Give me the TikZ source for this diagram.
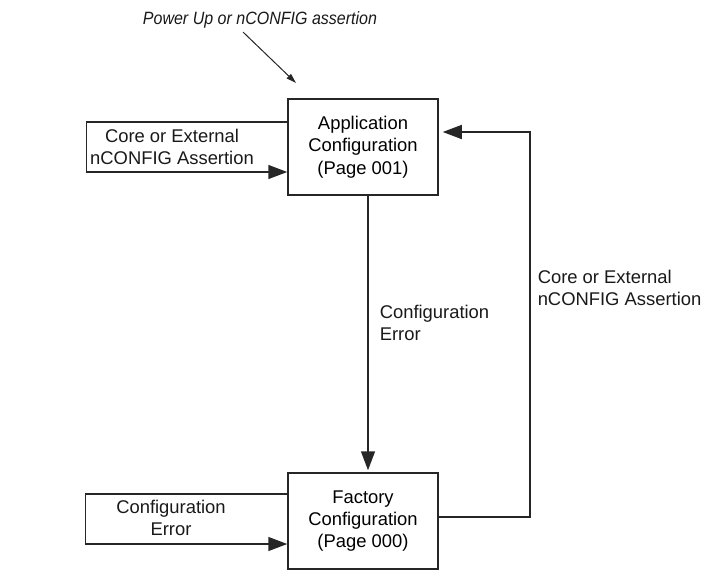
\documentclass[tikz,border=0pt]{standalone}
\usepackage{fontspec}
\setmainfont{Liberation Sans}
\newfontfamily\narrowit[FakeStretch=0.9]{Liberation Sans}
\usetikzlibrary{arrows.meta, positioning}

\begin{document}
\begin{tikzpicture}[x=0.5pt, y=0.5pt,
				box/.style={draw=black!85, line width=0.75pt, minimum width=75pt, minimum height=48pt, align=center, inner sep=0pt},
				lbl/.style={align=left, inner sep=0pt, text=black!90},
				>={Triangle[length=9.5pt, width=7pt]},   %Pfeilspitzen
				font=\fontsize{9.2}{11.2}\selectfont, line width=0.75pt, draw=black!85]
				%Rahmen
				\useasboundingbox (0,0) rectangle (705,585);
				% Zustaende
				\node[box] (app) at (363,438) {Application\\Configuration\\(Page 001)};
				\node[box] (fac) at (363,64) {Factory\\Configuration\\(Page 000)};
				% Start
				\node[lbl, font=\fontsize{8.9}{10.7}\narrowit\itshape] (pwr) at (260,565) {Power Up or nCONFIG assertion};
				\coordinate (pwrtip) at (296,502);
				\draw[-{Triangle[length=5pt, width=3pt]}, line width=0.5pt] ([xshift=-8.5pt,yshift=-1.5pt]pwr.south) -- (pwrtip);
				% Beschriftung
				\node[lbl, align=center] (assertL) at (172,438) {Core or External\\nCONFIG Assertion};
				\node[lbl, align=center] (errL) at (171,67) {Configuration\\Error};
				\node[lbl, anchor=west] (errM) at (379,262) {Configuration\\Error};
				\node[lbl, anchor=west] (assertR) at (537,297) {Core or External\\nCONFIG Assertion};
				% Uebergaenge
				\draw[->] ([yshift=12.5pt]app.west) -- ++(-201,0) -- ++(0,-50) -- ([yshift=-12.5pt]app.west);
				\draw[->] ([yshift=13.5pt]fac.west) -- ++(-202,0) -- ++(0,-50) -- ([yshift=-11.5pt]fac.west);
				\draw[->] ([xshift=2.5pt]app.south) -- ([xshift=2.5pt,yshift=1pt]fac.north);
				\draw[->] ([yshift=2pt]fac.east) -- ++(91,0) |- ([xshift=2pt,yshift=7.5pt]app.east);
			\end{tikzpicture}
\end{document}
